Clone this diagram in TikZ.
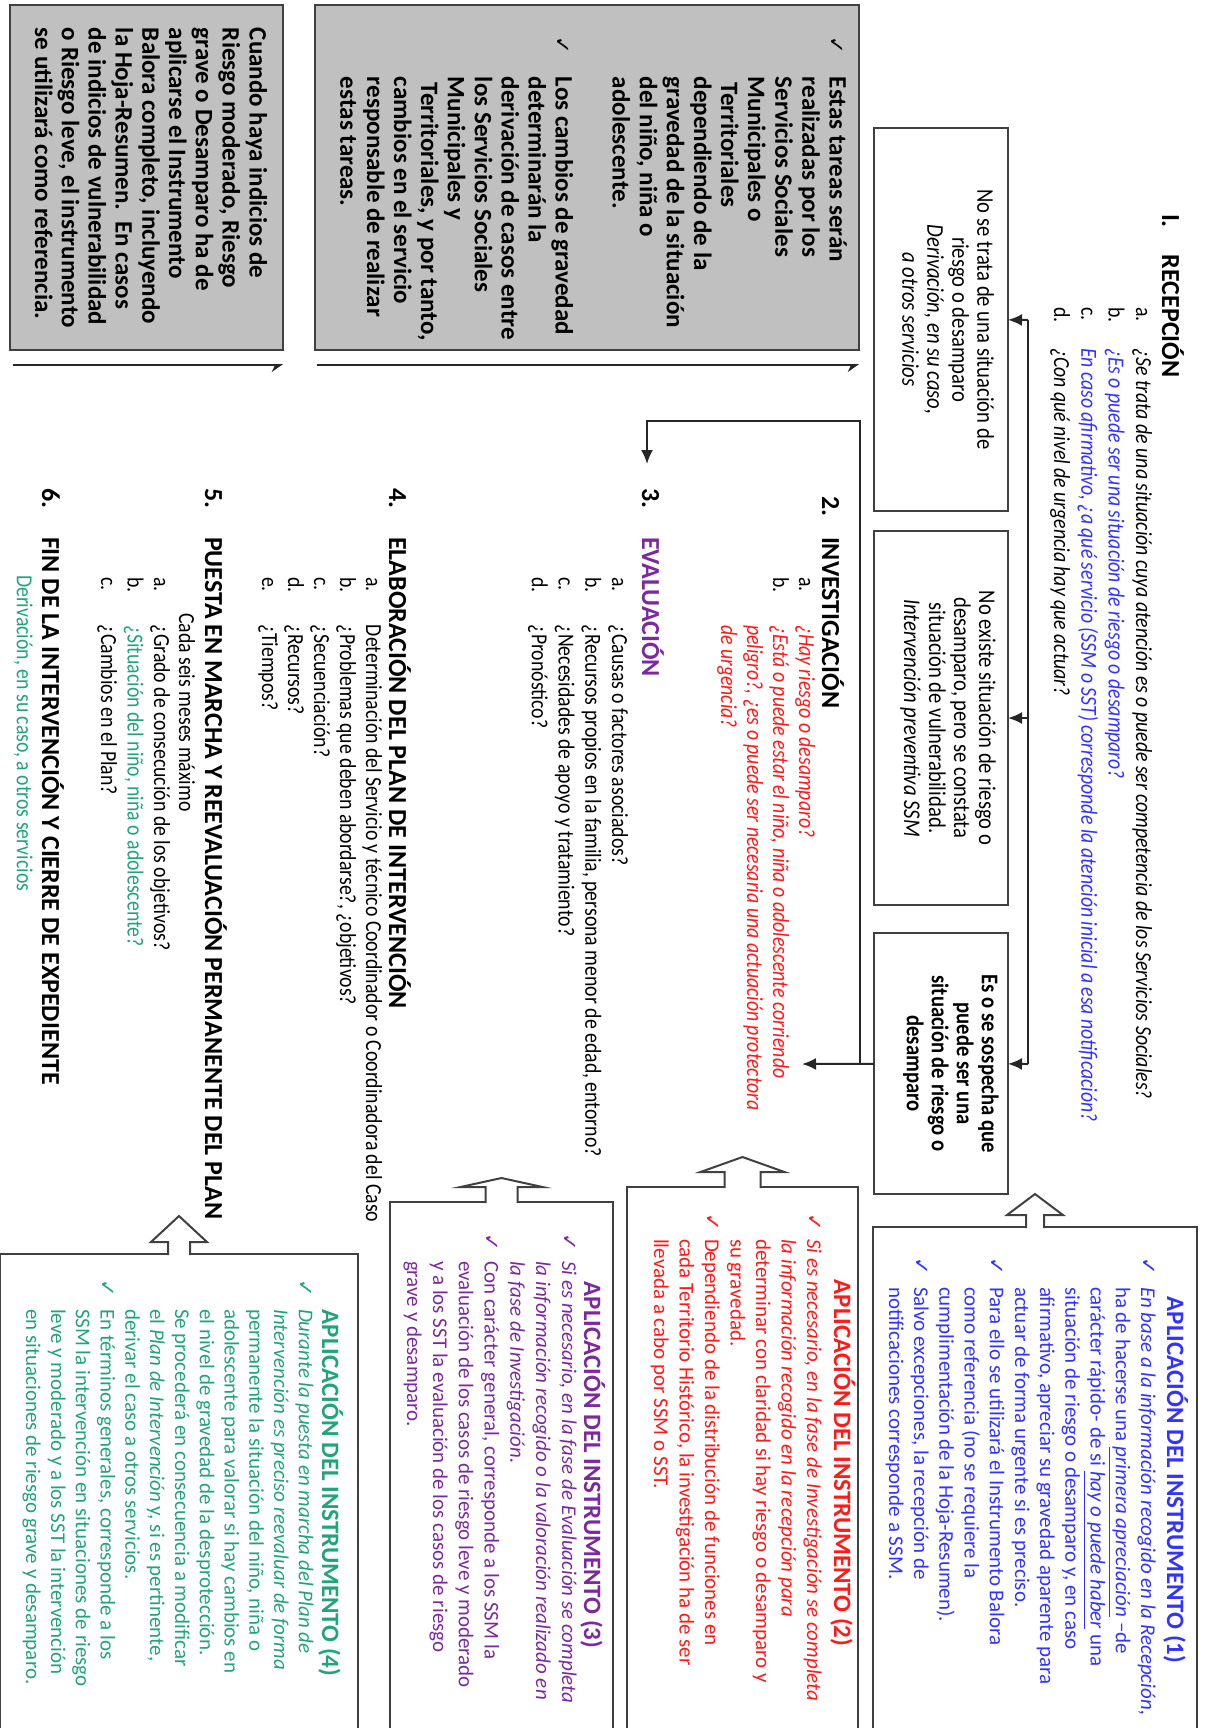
\documentclass[tikz,border=0pt]{standalone}
\usepackage{fontspec}
\setmainfont{Carlito}
\newfontfamily\condf{Carlito}[FakeStretch=0.86]
\newfontfamily\symf{DejaVu Sans}
\usepackage[HTML]{xcolor}
\usetikzlibrary{arrows.meta}

\definecolor{recblue}{HTML}{3333FF}
\definecolor{invred}{HTML}{FF1A1A}
\definecolor{evpurple}{HTML}{7B2A9E}
\definecolor{plangreen}{HTML}{22A37C}
\definecolor{notegray}{HTML}{C0C0C0}

\newcommand{\itemlab}[2][24pt]{\makebox[#1][l]{#2}}
\newcommand{\chk}{{\symf\fontsize{10.5}{10}\selectfont ✓}}
\newcommand{\firstln}{\rule{0pt}{1em}}

\begin{document}
\begin{tikzpicture}[x=0.5pt, y=0.5pt, rotate=-90, transform shape,
  every node/.style={inner sep=0pt, outer sep=0pt},
  num/.style={anchor=base west, font=\fontsize{13}{13}\selectfont\bfseries},
  qlist/.style={anchor=north west, align=left, font=\condf\fontsize{11.5}{#1}\selectfont},
  qline/.style={anchor=base west, font=\condf\fontsize{11.5}{13}\selectfont},
  optbox/.style={draw=black!75, line width=1pt},
  opttxt/.style={align=center, font=\condf\fontsize{12}{12.5}\selectfont},
  appbox/.style={draw=black!75, line width=1pt},
  apptitle/.style={anchor=base, font=\fontsize{12.5}{13}\selectfont\bfseries},
  appbody/.style={anchor=north west, align=left, font=\fontsize{10.5}{#1}\selectfont},
  notebox/.style={draw=black!75, line width=1pt, fill=notegray},
  notetxt/.style={anchor=north west, align=left, font=\fontsize{12.5}{#1}\selectfont\bfseries},
  link/.style={draw=black!85, line width=1pt},
  arr/.style={link, -{Latex[length=7pt,width=6pt]}},
  bracket/.style={draw=black!85, line width=1.3pt, -{Stealth[harpoon,swap,length=5pt,width=7pt]}},
  blockarr/.style={draw=black!75, line width=1pt, fill=white}
]
\useasboundingbox (0,0) rectangle (1728,1205);

% grey notes
\node[notebox, minimum width=172.5pt, minimum height=136.5pt] (g1) at (177.5,146.5) {};
\node[notebox, minimum width=172.5pt, minimum height=272pt] (g2) at (177.5,587) {};
\node[notetxt=13.4] (g1txt) at (28,274.5) {\firstln Cuando haya indicios de\\
  Riesgo moderado, Riesgo\\
  grave o Desamparo ha de\\
  aplicarse el Instrumento\\
  Balora completo, incluyendo\\
  la Hoja-Resumen.\ \ En casos\\
  de indicios de vulnerabilidad\\
  o Riesgo leve, el instrumento\\
  se utilizará como referencia.};
\node[notetxt=13.55] (g2txt) at (37,854.5) {\firstln\itemlab[20pt]{\chk}Estas tareas serán\\
  \itemlab[20pt]{}realizadas por los\\
  \itemlab[20pt]{}Servicios Sociales\\
  \itemlab[20pt]{}Municipales o\\
  \itemlab[23pt]{}Territoriales\\
  \itemlab[20pt]{}dependiendo de la\\
  \itemlab[20pt]{}gravedad de la situación\\
  \itemlab[20pt]{}del niño, niña o\\
  \itemlab[20pt]{}adolescente.};
\node[notetxt=13.45] (g2txtb) at (37,580.5) {\firstln\itemlab[20pt]{\chk}Los cambios de gravedad\\
  \itemlab[20pt]{}determinarán la\\
  \itemlab[20pt]{}derivación de casos entre\\
  \itemlab[20pt]{}los Servicios Sociales\\
  \itemlab[20pt]{}Municipales y\\
  \itemlab[23pt]{}Territoriales, y por tanto,\\
  \itemlab[20pt]{}cambios en el servicio\\
  \itemlab[20pt]{}responsable de realizar\\
  \itemlab[20pt]{}estas tareas.};
\coordinate (g1a) at (365,13);
\coordinate (g1b) at (365,283);
\coordinate (g2a) at (365,317);
\coordinate (g2b) at (365,859);
\draw[bracket] (g1a) -- (g1b);
\draw[bracket] (g2a) -- (g2b);

% 1. recepcion
\node[num] (n1) at (214,1162) {I.};
\node[num] (h1) at (255,1162) {RECEPCIÓN};
\node[qlist=13.65] (q1) at (307,1159) {\firstln\itemlab[20.5pt]{a.}\textit{¿Se trata de una situación cuya atención es o puede ser competencia de los Servicios Sociales?}\\
  \itemlab[20.5pt]{b.}\textcolor{recblue}{\textit{¿Es o puede ser una situación de riesgo o desamparo?}}\\
  \itemlab[20.5pt]{c.}\textcolor{recblue}{\textit{En caso afirmativo, ¿a qué servicio (SSM o SST) corresponde la atención inicial a esa notificación?}}\\
  \itemlab[20.5pt]{d.}\textit{¿Con qué nivel de urgencia hay que actuar?}};

% three outcomes
\node[optbox, minimum width=191.5pt, minimum height=67pt] (boxA) at (319.5,941) {};
\node[optbox, minimum width=187pt, minimum height=67pt] (boxB) at (718,941) {};
\node[optbox, minimum width=130.5pt, minimum height=67pt] (boxC) at (1063.5,941) {};
\node[opttxt] (txtA) at (319.5,948) {No se trata de una situación de\\riesgo o desamparo\\\textit{Derivación, en su caso,}\\\textit{a otros servicios}};
\node[opttxt] (txtB) at (718,948) {No existe situación de riesgo o\\desamparo, pero se constata\\situación de vulnerabilidad.\\\textit{Intervención preventiva SSM}};
\node[opttxt, font=\condf\fontsize{12}{12.5}\selectfont\bfseries] (txtC) at (1063.5,951) {Es o se sospecha que\\puede ser una\\situación de riesgo o\\desamparo};

\coordinate (busA) at (320,1028);
\coordinate (busB) at (718,1028);
\coordinate (busC) at (1064,1028);
\draw[link] (busA) -- (busC);
\foreach \b in {A,B,C}{\draw[arr] (bus\b) -- (box\b);}

% 2. investigacion
\node[num] (n2) at (496,822) {2.};
\node[num] (h2) at (537,822) {INVESTIGACIÓN};
\node[qlist=13] (q2) at (577,822) {\firstln\itemlab{a.}\textcolor{invred}{\textit{¿Hay riesgo o desamparo?}}\\
  \itemlab{b.}\textcolor{invred}{\textit{¿Está o puede estar el niño, niña o adolescente corriendo}}\\
  \itemlab{}\textcolor{invred}{\textit{peligro?, ¿es o puede ser necesaria una actuación protectora}}\\
  \itemlab{}\textcolor{invred}{\textit{de urgencia?}}};

\coordinate (jn) at (1064,860);
\coordinate (in2) at (1064,802);
\coordinate (k1) at (421,860);
\coordinate (k2) at (421,647);
\coordinate (in3) at (464,647);
\draw[arr] (boxC) -- (in2);
\draw[arr] (jn) -- (k1) -- (k2) -- (in3);

% 3. evaluacion
\node[num] (n3) at (488,642) {3.};
\node[num, text=evpurple] (h3) at (537,642) {EVALUACIÓN};
\node[qlist=13.35] (q3) at (577,635) {\firstln\itemlab{a.}¿Causas o factores asociados?\\
  \itemlab{b.}¿Recursos propios en la familia, persona menor de edad, entorno?\\
  \itemlab{c.}¿Necesidades de apoyo y tratamiento?\\
  \itemlab{d.}¿Pronóstico?};

% 4. plan
\node[num] (n4) at (488,389) {4.};
\node[num] (h4) at (537,389) {ELABORACIÓN DEL PLAN DE INTERVENCIÓN};
\node[qlist=13] (q4) at (577,389) {\firstln\itemlab{a.}Determinación del Servicio y técnico Coordinador o Coordinadora del Caso\\
  \itemlab{b.}¿Problemas que deben abordarse?, ¿objetivos?\\
  \itemlab{c.}¿Secuenciación?\\
  \itemlab{d.}¿Recursos?\\
  \itemlab{e.}¿Tiempos?};

% 5. puesta en marcha
\node[num] (n5) at (488,205) {5.};
\node[num] (h5) at (537,205) {PUESTA EN MARCHA Y REEVALUACIÓN PERMANENTE DEL PLAN};
\node[qline] (c5) at (613,179) {Cada seis meses máximo};
\node[qlist=13.25] (q5) at (577,177) {\firstln\itemlab{a.}¿Grado de consecución de los objetivos?\\
  \itemlab{b.}\textcolor{plangreen}{¿Situación del niño, niña o adolescente?}\\
  \itemlab{c.}¿Cambios en el Plan?};

% 6. cierre
\node[num] (n6) at (488,42) {6.};
\node[num] (h6) at (537,42) {FIN DE LA INTERVENCIÓN Y CIERRE DE EXPEDIENTE};
\node[qline, text=plangreen] (d6) at (575,17) {Derivación, en su caso, a otros servicios};

% instrument boxes
\node[appbox, minimum width=256.5pt, minimum height=162pt] (ap1) at (1483.5,1035) {};
\node[appbox, minimum width=276.5pt, minimum height=115.5pt] (ap2) at (1463.5,742.5) {};
\node[appbox, minimum width=269pt, minimum height=111.5pt] (ap3) at (1471,501.5) {};
\node[appbox, minimum width=243pt, minimum height=179pt] (ap4) at (1497,179) {};
\foreach \b/\s/\h/\l/\t in {ap1/9/28/12/21, ap2/18/42/15/15, ap3/16/41/15/9, ap4/11/28/12/26}
  \filldraw[blockarr] (\b.west) ++(1,\s) -- ++(-\l-1,0) -- ++(0,\h-\s) -- ++(-\t,-\h) -- ++(\t,-\h) -- ++(0,\h-\s) -- ++(\l+1,0);

\node[apptitle, text=recblue] (t1) at (1480,1167) {APLICACIÓN DEL INSTRUMENTO (1)};
\node[appbody=12.6, text=recblue] (b1) at (1257,1162) {\firstln\itemlab[15pt]{\chk}\textit{En base a la información recogido en la Recepción,}\\
  \itemlab[15pt]{}ha de hacerse una \underline{\textit{primera apreciación}} –de\\
  \itemlab[15pt]{}carácter rápido- de si \underline{\textit{hay o puede haber}} una\\
  \itemlab[15pt]{}situación de riesgo o desamparo y, en caso\\
  \itemlab[15pt]{}afirmativo, apreciar su gravedad aparente para\\
  \itemlab[15pt]{}actuar de forma urgente si es preciso.\\
  \itemlab[15pt]{\chk}Para ello se utilizará el Instrumento Balora\\
  \itemlab[15pt]{}como referencia (no se requiere la\\
  \itemlab[15pt]{}cumplimentación de la Hoja-Resumen).\\
  \itemlab[15pt]{\chk}Salvo excepciones, la recepción de\\
  \itemlab[15pt]{}notificaciones corresponde a SSM.};

\node[apptitle, text=invred] (t2) at (1463,834) {APLICACIÓN DEL INSTRUMENTO (2)};
\node[appbody=12.75, text=invred] (b2) at (1213,828) {\firstln\itemlab[13pt]{\chk}\textit{Si es necesario, en la fase de Investigación se completa}\\
  \itemlab[13pt]{}\textit{la información recogido en la recepción para}\\
  \itemlab[13pt]{}determinar con claridad si hay riesgo o desamparo y\\
  \itemlab[13pt]{}su gravedad.\\
  \itemlab[13pt]{\chk}Dependiendo de la distribución de funciones en\\
  \itemlab[13pt]{}cada Territorio Histórico, la investigación ha de ser\\
  \itemlab[13pt]{}llevada a cabo por SSM o SST.};

\node[apptitle, text=evpurple] (t3) at (1465,584) {APLICACIÓN DEL INSTRUMENTO (3)};
\node[appbody=12.9, text=evpurple] (b3) at (1233,583) {\firstln\itemlab[14pt]{\chk}\textit{Si es necesario, en la fase de Evaluación se completa}\\
  \itemlab[14pt]{}\textit{la información recogido o la valoración realizado en}\\
  \itemlab[14pt]{}\textit{la fase de Investigación.}\\
  \itemlab[14pt]{\chk}Con carácter general, corresponde a los SSM la\\
  \itemlab[14pt]{}evaluación de los casos de riesgo leve y moderado\\
  \itemlab[14pt]{}y a los SST la evaluación de los casos de riesgo\\
  \itemlab[14pt]{}grave y desamparo.};

\node[apptitle, text=plangreen] (t4) at (1493,322) {APLICACIÓN DEL INSTRUMENTO (4)};
\node[appbody=12.4, text=plangreen] (b4) at (1279,320) {\firstln\itemlab[15pt]{\chk}\textit{Durante la puesta en marcha del Plan de}\\
  \itemlab[15pt]{}\textit{Intervención es preciso reevaluar de forma}\\
  \itemlab[15pt]{}permanente la situación del niño, niña o\\
  \itemlab[15pt]{}adolescente para valorar si hay cambios en\\
  \itemlab[15pt]{}el nivel de gravedad de la desprotección.\\
  \itemlab[15pt]{}Se procederá en consecuencia a modificar\\
  \itemlab[15pt]{}el \textit{Plan de Intervención} y, si es pertinente,\\
  \itemlab[15pt]{}derivar el caso a otros servicios.\\
  \itemlab[15pt]{\chk}En términos generales, corresponde a los\\
  \itemlab[15pt]{}SSM la intervención en situaciones de riesgo\\
  \itemlab[15pt]{}leve y moderado y a los SST la intervención\\
  \itemlab[15pt]{}en situaciones de riesgo grave y desamparo.};
\end{tikzpicture}
\end{document}
